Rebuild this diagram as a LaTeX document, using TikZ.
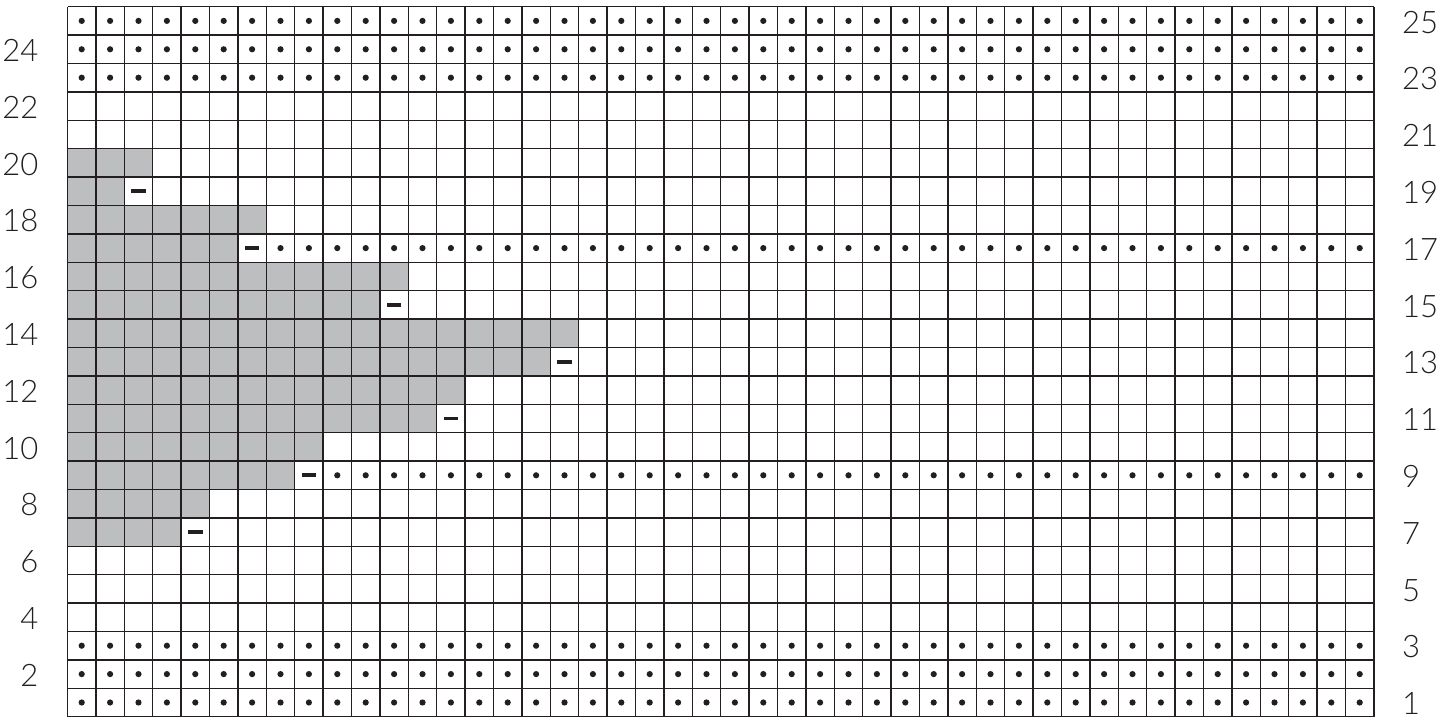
\documentclass[tikz,border=0pt]{standalone}
\usepackage{fontspec}
\setmainfont{Lato Light}
\definecolor{shade}{RGB}{188,190,192}
\definecolor{ink}{RGB}{35,31,32}
\begin{document}
\begin{tikzpicture}[x=1pt,y=1pt,
  gridline/.style={line width=1.3pt, draw=ink},
  shaded/.style={fill=shade},
  purl/.style={fill=ink},
  dashmark/.style={fill=ink},
  rowlabel/.style={font=\fontsize{31}{37}\selectfont, text=ink, inner sep=0pt}]
\useasboundingbox (0,0) rectangle (1450,717);
\begin{scope}[shift={(67.5,0.3)}, x=28.4pt, y=28.4pt]
  % shaded cells
  \foreach \r/\n in {20/3,19/2,18/7,17/6,16/12,15/11,14/18,13/17,12/14,11/13,10/9,9/8,8/5,7/4}
    \fill[shaded] (0,\r-1) rectangle (\n,\r);
  % grid lines
  \foreach \c in {0,...,46} \draw[gridline] (\c,0) -- (\c,25);
  \foreach \r in {0,...,25} \draw[gridline] (0,\r) -- (46,\r);
  % dots (full rows)
  \foreach \r in {1,2,3,23,24,25}
    \foreach \c in {1,...,46}
      \fill[purl] (\c-0.5,\r-0.5) circle (3.1pt);
  % dots (partial rows)
  \foreach \c in {8,...,46} \fill[purl] (\c-0.5,16.5) circle (3.1pt);
  \foreach \c in {10,...,46} \fill[purl] (\c-0.5,8.5) circle (3.1pt);
  % dashes
  \foreach \r/\c in {19/3,17/7,15/12,13/18,11/14,9/9,7/5}
    \fill[dashmark] (\c-0.5,\r-0.5) ++(-7.3pt,-1.85pt) rectangle ++(14.6pt,3.7pt);
\end{scope}
% row labels
\foreach \r in {2,4,...,24}
  \node[rowlabel, anchor=base east] (L\r) at (38.5, {(\r-0.5)*28.4-12}) {\r};
\foreach \r in {1,3,...,25}
  \node[rowlabel, anchor=base west] (R\r) at (1402, {(\r-0.5)*28.4-12}) {\r};
\end{tikzpicture}
\end{document}
